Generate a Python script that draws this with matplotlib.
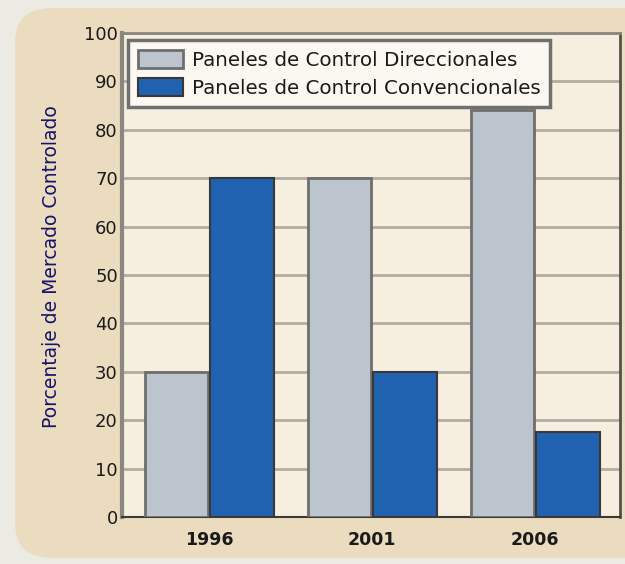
import matplotlib.pyplot as plt
import numpy as np
from matplotlib.patches import FancyBboxPatch

years = ['1996', '2001', '2006']
direccionales = [30, 70, 84]
convencionales = [70, 30, 17.5]
series_names = ['Paneles de Control Direccionales', 'Paneles de Control Convencionales']

fig = plt.figure(figsize=(6.25, 5.64), dpi=100, facecolor='#ecebe3')

# beige rounded panel behind the chart
panel = FancyBboxPatch((15 / 625, 6 / 564), 700 / 625, 550 / 564,
                       boxstyle='round,pad=0,rounding_size=0.06',
                       transform=fig.transFigure, facecolor='#ecdcbf',
                       edgecolor='none', zorder=-10)
fig.patches.append(panel)

ax = fig.add_axes([122 / 625, 47 / 564, 498 / 625, 484 / 564])
ax.set_zorder(1)
ax.set_facecolor('#f6eedf')

x = np.arange(len(years))
w = 0.39
ax.bar(x - w / 2 - 0.005, direccionales, w, color='#bcc4cd', edgecolor='#6e6e6e',
       linewidth=2, label=series_names[0], zorder=3)
ax.bar(x + w / 2 + 0.005, convencionales, w, color='#2162b0', edgecolor='#383838',
       linewidth=1.5, label=series_names[1], zorder=3)

ax.set_xlim(-0.535, 2.52)
ax.set_ylim(0, 100)
ax.set_yticks(range(0, 101, 10))
ax.set_xticks(x)
ax.set_xticklabels(years, fontsize=12.5, fontweight='bold', color='#1a1a1a')
ax.tick_params(axis='y', labelsize=13, colors='#1a1a1a', length=0, pad=3)
ax.tick_params(axis='x', length=0, pad=10)
ax.yaxis.grid(True, color='#b3aca0', linewidth=2, zorder=1)
ax.set_axisbelow(True)

ax.spines['top'].set_color('#8a8680')
ax.spines['top'].set_linewidth(2)
ax.spines['left'].set_color('#8a8680')
ax.spines['left'].set_linewidth(3)
ax.spines['right'].set_color('#55504a')
ax.spines['right'].set_linewidth(2)
ax.spines['bottom'].set_color('#3a3a3a')
ax.spines['bottom'].set_linewidth(1.5)

ax.set_ylabel('Porcentaje de Mercado Controlado', fontsize=13.5, color='#15156a')
ax.yaxis.set_label_coords(-0.122, 0.517)

leg = ax.legend(loc='upper left', bbox_to_anchor=(0.012, 0.985), borderaxespad=0,
                fontsize=14.3, frameon=True, fancybox=False, edgecolor='#707070',
                facecolor='#fbf8f2', framealpha=1, handlelength=2.25, handleheight=1.0,
                borderpad=0.5, labelspacing=0.4, handletextpad=0.45)
leg.get_frame().set_linewidth(2.5)
for t in leg.get_texts():
    t.set_color('#1a1a1a')

plt.savefig('out.png', dpi=100, facecolor=fig.get_facecolor())
